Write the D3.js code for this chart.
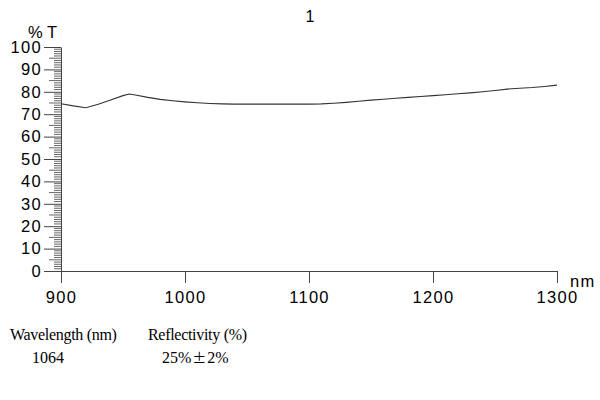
<!DOCTYPE html>
<html><head><meta charset="utf-8">
<script src="https://cdn.jsdelivr.net/npm/d3@7"></script>
<style>body{margin:0;background:#fff}svg{display:block}</style>
</head><body><svg id="c" width="600" height="400"></svg>
<script>
const wavelengths = [900,910,920,930,940,950,955,960,970,980,990,1000,1010,1020,1030,1040,1050,1060,1070,1080,1090,1100,1110,1120,1130,1140,1150,1160,1170,1180,1190,1200,1210,1220,1230,1240,1250,1260,1270,1280,1290,1300];
const transmission = [74.7,73.7,72.9,74.4,76.3,78.3,79.0,78.6,77.5,76.6,76.0,75.5,75.1,74.8,74.6,74.5,74.5,74.5,74.5,74.5,74.5,74.5,74.6,74.9,75.3,75.8,76.3,76.7,77.1,77.5,77.9,78.3,78.7,79.1,79.5,80.0,80.6,81.2,81.6,81.9,82.4,83.0];
const xTicks = [900,1000,1100,1200,1300];
const yTicks = [0,10,20,30,40,50,60,70,80,90,100];
const title = "1";
const yLabel = "% T";
const xLabel = "nm";
const tableHeaders = ["Wavelength (nm)","Reflectivity (%)"];
const tableValues = ["1064","25%","\u00b1","2%"];

const svg = d3.select("#c");
const x = d3.scaleLinear().domain([900,1300]).range([61,557]);
const y = d3.scaleLinear().domain([0,100]).range([271,47]);
const axisColor = "#444";
const sans = "'Liberation Sans', Arial, sans-serif";

// X axis
const xa = svg.append("g").attr("transform","translate(0,271)")
  .call(d3.axisBottom(x).tickValues(xTicks).tickSize(12).tickPadding(6).tickSizeOuter(0).tickFormat(d3.format("d")));
xa.select(".domain").attr("stroke",axisColor);
xa.selectAll(".tick line").attr("stroke",axisColor);
xa.selectAll("text").attr("font-family",sans).attr("font-size",16.5).attr("letter-spacing","1.3px").attr("fill","#000").attr("dy","0.85em");

// Y axis minor ticks
const minor = d3.range(0,101,1).filter(d=>d%5!==0);
const mid = d3.range(5,100,10);
svg.append("g").selectAll("line").data(minor).join("line")
  .attr("x1",54).attr("x2",61).attr("y1",d=>y(d)).attr("y2",d=>y(d)).attr("stroke","#666").attr("stroke-width",1);
svg.append("g").selectAll("line").data(mid).join("line")
  .attr("x1",49).attr("x2",61).attr("y1",d=>y(d)).attr("y2",d=>y(d)).attr("stroke","#666").attr("stroke-width",1);
const ya = svg.append("g").attr("transform","translate(61,0)")
  .call(d3.axisLeft(y).tickValues(yTicks).tickSize(17).tickPadding(2).tickSizeOuter(0).tickFormat(d3.format("d")));
ya.select(".domain").attr("stroke",axisColor);
ya.selectAll(".tick line").attr("stroke",axisColor);
ya.selectAll("text").attr("font-family",sans).attr("font-size",16.5).attr("letter-spacing","1.3px").attr("fill","#000");

// line
svg.append("path").datum(wavelengths.map((w,i)=>[w,transmission[i]]))
  .attr("fill","none").attr("stroke","#333").attr("stroke-width",1.1)
  .attr("d",d3.line().x(d=>x(d[0])).y(d=>y(d[1])));

// labels
svg.append("text").attr("x",310).attr("y",22).attr("text-anchor","middle").attr("font-family",sans).attr("font-size",16).text(title);
svg.append("text").attr("x",28).attr("y",38).attr("font-family",sans).attr("font-size",16.5).text(yLabel);
svg.append("text").attr("x",570).attr("y",287).attr("font-family",sans).attr("font-size",16.5).attr("letter-spacing","1.3px").text(xLabel);

const serif = "'Liberation Serif', 'Times New Roman', serif";
const fs = 16;
svg.append("text").attr("x",10).attr("y",340).attr("font-family",serif).attr("font-size",fs).attr("letter-spacing","-0.3px").text(tableHeaders[0]);
svg.append("text").attr("x",148).attr("y",340).attr("font-family",serif).attr("font-size",fs).attr("letter-spacing","-0.3px").text(tableHeaders[1]);
svg.append("text").attr("x",32).attr("y",363).attr("font-family",serif).attr("font-size",fs).text(tableValues[0]);
const t = svg.append("text").attr("x",162).attr("y",363).attr("font-family",serif).attr("font-size",fs);
t.append("tspan").text(tableValues[1]);
t.append("tspan").attr("font-family","'Noto Sans CJK SC'").attr("font-size",14).attr("dx",1).text(tableValues[2]);
t.append("tspan").attr("dx",1).text(tableValues[3]);
</script></body></html>
